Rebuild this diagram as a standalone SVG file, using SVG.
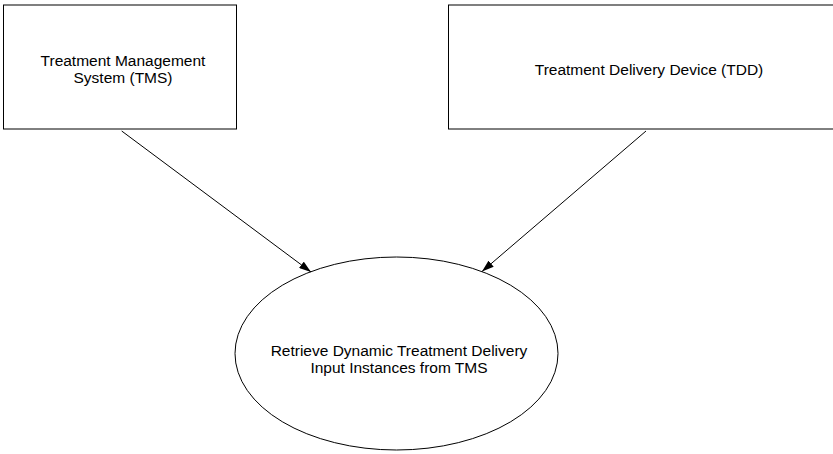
<svg xmlns="http://www.w3.org/2000/svg" width="833" height="454" viewBox="0 0 833 454">
<defs>
<style>
.box{fill:#ffffff;stroke:#000000;stroke-width:1}
.lbl{font-family:"Liberation Sans",Arial,sans-serif;font-size:15.5px;fill:#000000;text-anchor:middle}
.conn{stroke:#000000;stroke-width:1;fill:none}
</style>
<marker id="ah" viewBox="0 0 12 8" refX="12" refY="4" markerWidth="12" markerHeight="8" markerUnits="userSpaceOnUse" orient="auto">
<path d="M0,0 L12,4 L0,8 Z" fill="#000000"/>
</marker>
</defs>
<rect width="833" height="454" fill="#ffffff"/>
<g id="tms">
<rect class="box" x="3.5" y="5" width="233" height="124"/>
<text class="lbl" x="123" y="66">Treatment Management</text>
<text class="lbl" x="123" y="83">System (TMS)</text>
</g>
<g id="tdd">
<rect class="box" x="448.5" y="5" width="400" height="124"/>
<text class="lbl" x="649" y="75">Treatment Delivery Device (TDD)</text>
</g>
<g id="retrieve">
<ellipse class="box" cx="396.5" cy="353.5" rx="161.5" ry="96.5"/>
<text class="lbl" x="399" y="356">Retrieve Dynamic Treatment Delivery</text>
<text class="lbl" x="399" y="373">Input Instances from TMS</text>
</g>
<g id="connectors">
<line class="conn" x1="121.7" y1="131" x2="311" y2="272" marker-end="url(#ah)"/>
<line class="conn" x1="646" y1="131" x2="482" y2="271.5" marker-end="url(#ah)"/>
</g>
</svg>
